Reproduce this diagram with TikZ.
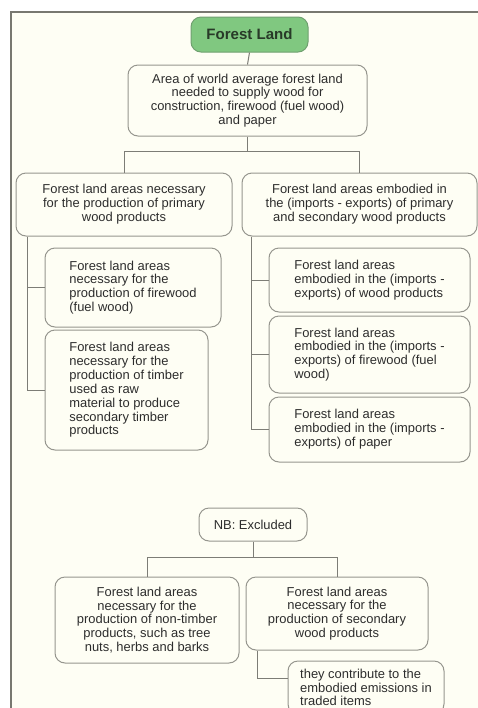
\documentclass[tikz,border=0pt]{standalone}
\usepackage{fontspec}
\setsansfont{Liberation Sans}

\definecolor{paneBg}{RGB}{254,254,244}
\definecolor{frameLine}{RGB}{120,120,112}
\definecolor{boxLine}{RGB}{150,150,142}
\definecolor{linkLine}{RGB}{125,125,118}
\definecolor{leafGreen}{RGB}{128,200,128}
\definecolor{leafEdge}{RGB}{112,160,112}
\definecolor{textGray}{RGB}{45,45,45}

\tikzset{every picture/.style={line width=0.75pt}}
\tikzset{
  box/.style={draw=boxLine, fill=paneBg, rounded corners=7.5pt, inner sep=0pt,
    align=center, text=textGray, font=\sffamily\fontsize{9.7}{10.4}\selectfont},
  leftbox/.style={box, align=left},
  rootbox/.style={box, draw=leafEdge, fill=leafGreen, text={rgb,255:red,40;green,58;blue,40},
    font=\sffamily\bfseries\fontsize{11.3}{13}\selectfont},
  link/.style={draw=linkLine, line width=0.75pt}
}

\begin{document}
\begin{tikzpicture}[x=0.75pt,y=0.75pt,yscale=-1,xscale=1]
%page of 478 by 708, cut at the edges
\clip (0,0) rectangle (478,708);
\fill [white] (0,0) rectangle (478,708);

%Shape: Panel [id:panel]
\fill [paneBg] (11,12) rectangle (478,708);
\draw [frameLine][line width=1.1] (478,12) -- (11,12) -- (11,708);

% Root Node
\node [rootbox, minimum width=87.75pt, minimum height=26.25pt] (forest) at (249.5,34.5) {Forest Land};
% Text Node
\node [box, minimum width=179.25pt, minimum height=53.25pt] (area) at (247.5,100.5)
  {Area of world average forest land\\needed to supply wood for\\construction, firewood (fuel wood)\\and paper};

% Text Node
\node [box, minimum width=162pt, minimum height=47.25pt] (primary) at (124,204.5)
  {Forest land areas necessary\\for the production of primary\\wood products};
% Text Node
\node [box, minimum width=176.25pt, minimum height=47.25pt] (trade) at (359.5,204.5)
  {Forest land areas embodied in\\the (imports - exports) of primary\\and secondary wood products};

% Text Node
\node [leftbox, minimum width=132pt, minimum height=59.25pt] (firewood) at (133,287.5)
  {Forest land areas\\necessary for the\\production of firewood\\(fuel wood)};
% Text Node
\node [leftbox, minimum width=122.25pt, minimum height=90pt] (timber) at (126.5,390)
  {Forest land areas\\necessary for the\\production of timber\\used as raw\\material to produce\\secondary timber\\products};

% Text Node
\node [leftbox, minimum width=150.75pt, minimum height=48pt] (tradewood) at (369.5,280)
  {Forest land areas\\embodied in the (imports -\\exports) of wood products};
% Text Node
\node [leftbox, minimum width=150.75pt, minimum height=57.75pt] (tradefire) at (369.5,354.5)
  {Forest land areas\\embodied in the (imports -\\exports) of firewood (fuel\\wood)};
% Text Node
\node [leftbox, minimum width=150.75pt, minimum height=48.75pt] (tradepaper) at (369.5,429.5)
  {Forest land areas\\embodied in the (imports -\\exports) of paper};

% Text Node
\node [box, minimum width=81pt, minimum height=24.75pt] (excluded) at (253,524.5) {NB: Excluded};
% Text Node
\node [box, minimum width=138pt, minimum height=64.5pt] (nontimber) at (147,620)
  {Forest land areas\\necessary for the\\production of non-timber\\products, such as tree\\nuts, herbs and barks};
% Text Node
\node [box, minimum width=136.5pt, minimum height=54.75pt] (secondary) at (337,613.5)
  {Forest land areas\\necessary for the\\production of secondary\\wood products};
% Text Node
\node [leftbox, minimum width=117pt, minimum height=39.75pt] (emissions) at (366,687.5)
  {they contribute to the\\embodied emissions in\\traded items};

%Connectors
\draw [link] (forest.south) -- (area.north);
\draw [link] (area.south) -- ++(0,15) coordinate (areaSplit) -| (primary.north);
\draw [link] (areaSplit) -| (trade.north);

\draw [link] ([xshift=9pt]primary.south west) |- (firewood.west);
\draw [link] ([xshift=9pt]primary.south west) |- (timber.west);

\draw [link] ([xshift=7.5pt]trade.south west) |- (tradewood.west);
\draw [link] ([xshift=7.5pt]trade.south west) |- (tradefire.west);
\draw [link] ([xshift=7.5pt]trade.south west) |- (tradepaper.west);

\draw [link] (excluded.south) -- ++(0,16) coordinate (exclSplit) -| (nontimber.north);
\draw [link] (exclSplit) -| (secondary.north);

\draw [link] ([xshift=9pt]secondary.south west) |- ([yshift=-7.1pt]emissions.west);

\end{tikzpicture}
\end{document}
